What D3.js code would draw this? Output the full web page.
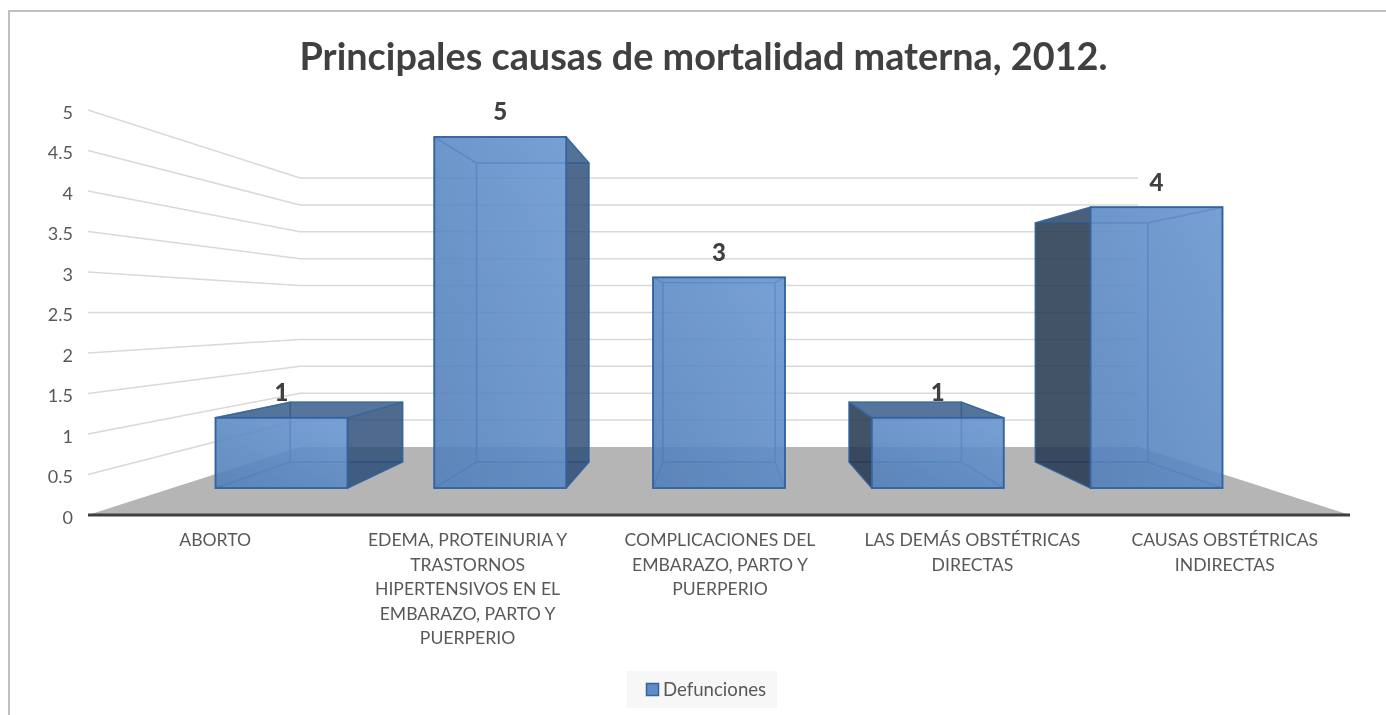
<!DOCTYPE html>
<html><head><meta charset="utf-8">
<script src="https://cdn.jsdelivr.net/npm/d3@7"></script>
<style>html,body{margin:0;padding:0;background:#fff;overflow:hidden}svg{display:block}text{font-family:Lato,"Open Sans",sans-serif}</style>
</head><body><div id="chart"></div>
<script>
const categories=["ABORTO","EDEMA, PROTEINURIA Y TRASTORNOS HIPERTENSIVOS EN EL EMBARAZO, PARTO Y PUERPERIO","COMPLICACIONES DEL EMBARAZO, PARTO Y PUERPERIO","LAS DEMÁS OBSTÉTRICAS DIRECTAS","CAUSAS OBSTÉTRICAS INDIRECTAS"];
const categoryLines=[["ABORTO"],["EDEMA, PROTEINURIA Y","TRASTORNOS","HIPERTENSIVOS EN EL","EMBARAZO, PARTO Y","PUERPERIO"],["COMPLICACIONES DEL","EMBARAZO, PARTO Y","PUERPERIO"],["LAS DEMÁS OBSTÉTRICAS","DIRECTAS"],["CAUSAS OBSTÉTRICAS","INDIRECTAS"]];
const values=[1,5,3,1,4];
const yTicks=[0,0.5,1,1.5,2,2.5,3,3.5,4,4.5,5];
const yTickLabels=["0","0.5","1","1.5","2","2.5","3","3.5","4","4.5","5"];
const title="Principales causas de mortalidad materna, 2012.";
const seriesName="Defunciones";

const W=1386,H=715;
const root=d3.select("#chart").append("svg").attr("width",W).attr("height",H);
const defs=root.append("defs");
const grad=defs.append("linearGradient").attr("id","front").attr("x1","0").attr("y1","1").attr("x2","1").attr("y2","0");
grad.append("stop").attr("offset","0").attr("stop-color","#5380ba");
grad.append("stop").attr("offset","1").attr("stop-color","#6896d0");
defs.append("filter").attr("id","soft")
  .attr("filterUnits","userSpaceOnUse").attr("x",0).attr("y",0).attr("width",W).attr("height",H)
  .append("feGaussianBlur").attr("stdDeviation",0.45);
const svg=root.append("g").attr("filter","url(#soft)");
svg.append("rect").attr("width",W).attr("height",H).attr("fill","#fff");

// flat scales of the front plane, then a one-point perspective
const x=d3.scaleBand().domain(categories).range([88,1350]).paddingInner(0.397).paddingOuter(0.1985);
const y=d3.scaleLinear().domain([0,5]).range([515,110]);
const vp={x:719,y:312.5};
const S={front:1,barFront:0.8667,barBack:0.738,wall:0.664};
const P=(wx,wy,s)=>[vp.x+(wx-vp.x)*s,vp.y+(wy-vp.y)*s];
const line=d3.line();
const xL=x.range()[0],xR=x.range()[1];

svg.append("path").attr("d","M9,715V11H1386").attr("fill","none").attr("stroke","#bfbfbf").attr("stroke-width",2);

svg.append("text").attr("x",703.5).attr("y",69.5).attr("text-anchor","middle").attr("font-size",37.8).attr("font-weight",700).attr("fill","#404040").text(title);

// floor
svg.append("path").attr("d",line([P(xL,y(0),S.front),P(xL,y(0),S.wall),P(xR,y(0),S.wall),P(xR,y(0),S.front)])+"Z").attr("fill","#b5b5b5");

// gridlines on walls
svg.append("g").selectAll("path").data(yTicks.slice(1)).join("path")
 .attr("d",t=>line([P(xL,y(t),S.front),P(xL,y(t),S.wall),P(xR,y(t),S.wall)]))
 .attr("fill","none").attr("stroke","#d9d9d9").attr("stroke-width",1.5);

// y labels
svg.append("g").selectAll("text").data(yTicks).join("text")
 .attr("x",73).attr("y",t=>y(t)+8.5).attr("text-anchor","end").attr("font-size",18).attr("fill","#595959")
 .text((t,i)=>yTickLabels[i]);

// bars
const edge="#34649f";
const bars=svg.append("g").selectAll("g").data(categories).join("g");
bars.each(function(c,i){
  const g=d3.select(this),v=values[i],a=x(c),b=a+x.bandwidth();
  const fb=(wx,t,s)=>P(wx,y(t),s);
  const F=S.barFront,B=S.barBack;
  const face=(pts,fill,op)=>g.append("path").attr("d",line(pts)+"Z").attr("fill",fill).attr("fill-opacity",op)
     .attr("stroke",edge).attr("stroke-width",1.4).attr("stroke-opacity",0.75).attr("stroke-linejoin","round");
  face([fb(a,0,B),fb(b,0,B),fb(b,v,B),fb(a,v,B)],"#5a88c2",0.12);
  face([fb(a,0,F),fb(b,0,F),fb(b,0,B),fb(a,0,B)],"#4a78b4",0.25);
  const topVisible=y(v)>vp.y;
  face([fb(a,0,F),fb(a,0,B),fb(a,v,B),fb(a,v,F)],a>vp.x?"#26394f":"#4a78b4",a>vp.x?0.86:0.18);
  face([fb(b,0,F),fb(b,0,B),fb(b,v,B),fb(b,v,F)],b<vp.x?"#2c4d75":"#5a88c2",b<vp.x?0.82:0.18);
  face([fb(a,v,F),fb(b,v,F),fb(b,v,B),fb(a,v,B)],topVisible?"#3a5f8c":"#5a88c2",topVisible?0.85:0.2);
  g.append("rect").attr("x",fb(a,v,F)[0]).attr("y",fb(a,v,F)[1])
   .attr("width",fb(b,v,F)[0]-fb(a,v,F)[0]).attr("height",fb(a,0,F)[1]-fb(a,v,F)[1])
   .attr("fill","url(#front)").attr("fill-opacity",0.88).attr("stroke",edge).attr("stroke-width",1.8);
});

// value labels
svg.append("g").selectAll("text").data(values).join("text")
 .attr("x",(d,i)=>P(x(categories[i])+x.bandwidth()/2,y(d),S.barFront)[0])
 .attr("y",d=>P(0,y(d),S.barFront)[1]-16.5)
 .attr("text-anchor","middle").attr("font-size",24).attr("font-weight",900).attr("fill","#404040").text(d=>d);

// axis line
svg.append("line").attr("x1",xL).attr("x2",xR).attr("y1",y(0)).attr("y2",y(0)).attr("stroke","#404040").attr("stroke-width",3);

// category labels
svg.append("g").selectAll("text").data(categories).join("text")
 .attr("text-anchor","middle").attr("font-size",17.6).attr("fill","#595959")
 .each(function(c,i){
   const t=d3.select(this),cx=x(c)+x.bandwidth()/2+1;
   categoryLines[i].forEach((l,j)=>t.append("tspan").attr("x",cx).attr("y",546+j*24.5).text(l));
 });

// legend
const lg=svg.append("g");
lg.append("rect").attr("x",627).attr("y",671).attr("width",150).attr("height",37).attr("fill","#f7f7f7");
lg.append("rect").attr("x",646.5).attr("y",683.5).attr("width",12).attr("height",12).attr("fill","#5f8cc6").attr("stroke",edge).attr("stroke-width",1.5);
lg.append("text").attr("x",663).attr("y",695.5).attr("font-size",18.6).attr("fill","#595959").text(seriesName);
</script></body></html>
